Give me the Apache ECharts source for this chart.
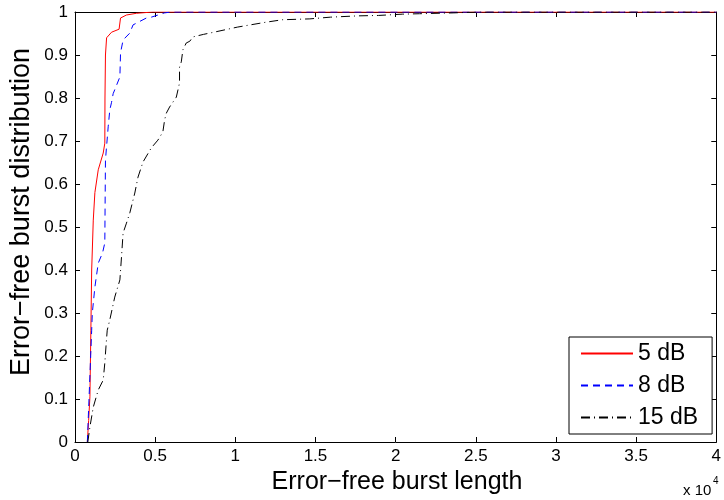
<!DOCTYPE html>
<html>
<head>
<meta charset="utf-8">
<script src="https://cdn.jsdelivr.net/npm/echarts@6/dist/echarts.min.js"></script>
<style>html,body{margin:0;padding:0;background:#fff}#c{width:724px;height:500px}</style>
</head>
<body>
<div id="c"></div>
<script>
// Error-free burst length (x) vs cumulative distribution (y)
const seriesNames = ['5 dB', '8 dB', '15 dB'];
const seriesColors = ['#ff0000', '#0000ff', '#000000'];
const seriesDash = ['solid', [7, 5], [9, 4, 1, 4]];
const xTicks = ['0', '0.5', '1', '1.5', '2', '2.5', '3', '3.5', '4'];
const yTicks = ['0', '0.1', '0.2', '0.3', '0.4', '0.5', '0.6', '0.7', '0.8', '0.9', '1'];
const xTitle = 'Error\u2212free burst length';
const yTitle = 'Error\u2212free burst distribution';

const data5dB = [
  [770,0],[850,0.05],[930,0.105],[990,0.26],[1040,0.40],[1140,0.516],[1240,0.58],
  [1450,0.633],[1760,0.672],[1860,0.695],[1870,0.80],[1900,0.90],[1970,0.94],
  [2280,0.953],[2750,0.96],[2840,0.986],[3210,0.993],[3830,0.997],[4850,1.0],[40000,1.0]
];
const data8dB = [
  [770,0],[1040,0.26],[1080,0.30],[1240,0.36],[1450,0.416],[1720,0.44],[1860,0.463],
  [1870,0.516],[1900,0.656],[2070,0.733],[2170,0.772],[2280,0.79],[2380,0.81],
  [2800,0.849],[2840,0.905],[3000,0.935],[3420,0.951],[3620,0.97],[4450,0.986],
  [4760,0.988],[5590,0.998],[6000,1.0],[40000,1.0]
];
const data15dB = [
  [800,0],[930,0.035],[1140,0.081],[1450,0.121],[1760,0.144],[1860,0.184],[1930,0.221],
  [2010,0.26],[2170,0.284],[2480,0.337],[2800,0.377],[2900,0.43],[3000,0.486],
  [3210,0.509],[3420,0.533],[3730,0.579],[3930,0.616],[4240,0.651],[4760,0.684],
  [5170,0.702],[5480,0.721],[5590,0.749],[5700,0.765],[5900,0.779],[6320,0.802],
  [6520,0.835],[6520,0.872],[6630,0.884],[6730,0.912],[6940,0.928],[7160,0.932],
  [7350,0.942],[8020,0.948],[8660,0.953],[10150,0.965],[11870,0.976],[12940,0.982],
  [14650,0.984],[15930,0.988],[17650,0.991],[18930,0.992],[20420,0.995],[21490,0.996],
  [23630,0.998],[25130,1.0],[40000,1.0]
];

const FONT = 'Liberation Sans, Arial, Helvetica, sans-serif';
const chart = echarts.init(document.getElementById('c'), null, {renderer: 'canvas'});

const axisCommon = {
  axisLine: {show: true, onZero: false, lineStyle: {color: '#000', width: 1}},
  axisTick: {show: true, inside: true, length: 5, lineStyle: {color: '#000'}},
  splitLine: {show: false}
};

chart.setOption({
  backgroundColor: '#fff',
  animation: false,
  grid: {left: 75, right: 5, top: 12, bottom: 58},
  xAxis: [
    Object.assign({}, axisCommon, {
      type: 'value', min: 0, max: 40000, interval: 5000, position: 'bottom',
      axisLabel: {color: '#000', fontFamily: FONT, fontSize: 17, margin: 6,
        formatter: v => xTicks[Math.round(v / 5000)]}
    }),
    Object.assign({}, axisCommon, {
      type: 'value', min: 0, max: 40000, interval: 5000, position: 'top',
      axisLabel: {show: false}
    })
  ],
  yAxis: [
    Object.assign({}, axisCommon, {
      type: 'value', min: 0, max: 1, interval: 0.1, position: 'left',
      axisLabel: {color: '#000', fontFamily: FONT, fontSize: 17, margin: 7,
        formatter: v => yTicks[Math.round(v * 10)]}
    }),
    Object.assign({}, axisCommon, {
      type: 'value', min: 0, max: 1, interval: 0.1, position: 'right',
      axisLabel: {show: false}
    })
  ],
  legend: {
    orient: 'vertical', left: 569, top: 337,
    data: seriesNames,
    backgroundColor: '#fff', borderColor: '#000', borderWidth: 1, borderRadius: 0,
    padding: [5, 14, 5, 11], itemWidth: 52, itemHeight: 1, itemGap: 9,
    textStyle: {color: '#000', fontFamily: FONT, fontSize: 23, lineHeight: 22}
  },
  graphic: [
    {type: 'text', x: 397, y: 482, style: {text: xTitle, fill: '#000', font: '25px ' + FONT,
      align: 'center', verticalAlign: 'middle'}},
    {type: 'text', x: 22, y: 212, rotation: Math.PI / 2, style: {text: yTitle, fill: '#000',
      font: '27px ' + FONT, align: 'center', verticalAlign: 'middle'}},
    {type: 'text', left: 683, top: 483, style: {text: 'x 10', fill: '#000', font: '15px ' + FONT}},
    {type: 'text', left: 713, top: 476, style: {text: '4', fill: '#000', font: '10px ' + FONT}}
  ],
  series: seriesNames.map((n, i) => ({
    name: n, type: 'line', data: [data5dB, data8dB, data15dB][i], symbol: 'none',
    color: seriesColors[i],
    lineStyle: {color: seriesColors[i], width: 1, type: seriesDash[i]},
    itemStyle: {color: seriesColors[i]}
  }))
});
</script>
</body>
</html>
